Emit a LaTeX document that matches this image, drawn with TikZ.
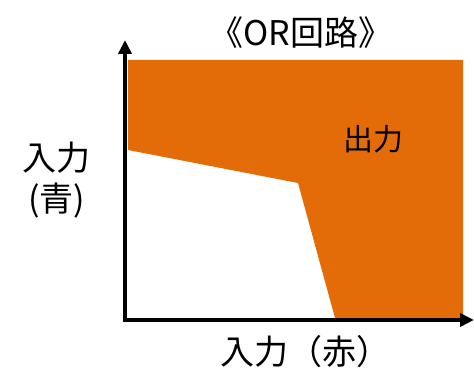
\documentclass[tikz,border=0pt]{standalone}
\usepackage{fontspec}
\setmainfont{Noto Sans CJK JP}
\usetikzlibrary{arrows.meta}
\definecolor{orfill}{HTML}{E36C09}
\begin{document}
\begin{tikzpicture}[x=1pt,y=1pt,
  axis/.style={line width=4pt,-{Triangle[length=14pt,width=13pt]}},
  lbl/.style={font=\fontsize{34}{41}\selectfont,inner sep=0pt,align=center},
  inlbl/.style={font=\fontsize{30}{36}\selectfont,inner sep=0pt}]
\useasboundingbox (0,0) rectangle (474,371);
\fill[orfill] (128,311) -- (463,311) -- (463,53) -- (335,53) -- (298,188) -- (128,221) -- cycle;
\coordinate (o) at (125,51);
\coordinate (ytip) at (125,331);
\coordinate (xtip) at (474,51);
\draw[axis] (o) -- (ytip);
\draw[axis] ([xshift=-2pt]o) -- (xtip);
\node[lbl] (title) at (301,338) {《OR回路》};
\node[inlbl] (out) at (373,232) {出力};
\node[lbl] (yl) at (57,191) {入力\\(青)};
\node[lbl] (xl) at (305,19) {入力（赤）};
\end{tikzpicture}
\end{document}
